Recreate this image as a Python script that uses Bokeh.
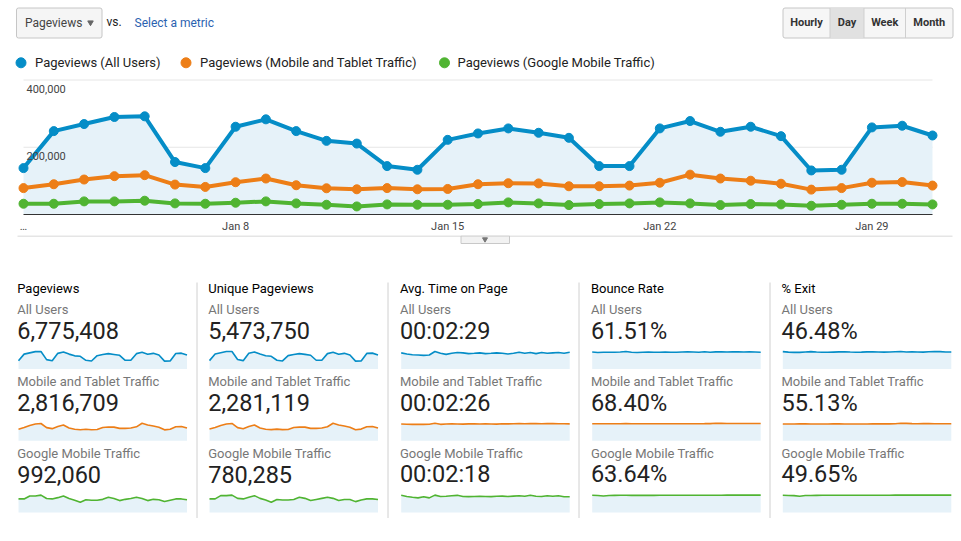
from bokeh.plotting import figure
from bokeh.models import Range1d, FixedTicker
from bokeh.layouts import column
from bokeh.core.properties import value
from bokeh.embed import file_html
from bokeh.resources import INLINE

FONT = value("Roboto")
W = 961
BASE_SHIFT = 0.37  # measured downward drift of the alphabetic baseline, in em

# ---------------- data ----------------
days = list(range(1, 32))
x_tick_days = [1, 8, 15, 22, 29]
x_tick_labels = ["…", "Jan 8", "Jan 15", "Jan 22", "Jan 29"]
y_ticks = [200000, 400000]
y_tick_labels = ["200,000", "400,000"]

series_names = ["Pageviews (All Users)", "Pageviews (Mobile and Tablet Traffic)",
                "Pageviews (Google Mobile Traffic)"]
series_colors = ["#058dc7", "#ed7e17", "#50b432"]

pv_all = [138000, 248000, 269000, 290000, 292000, 156000, 138000, 261000, 283000, 248000,
          219000, 211000, 144000, 133000, 222000, 241000, 256000, 243000, 228000, 144000,
          144000, 256000, 278000, 246000, 261000, 233000, 131000, 133000, 259000, 264000, 235000]
pv_mobile = [78500, 90000, 104000, 114000, 117000, 89000, 82000, 96000, 107000, 87000,
             78000, 75000, 78500, 75000, 76000, 90000, 93000, 92500, 84000, 84000,
             86000, 94500, 118500, 107000, 100500, 91500, 74000, 78500, 94500, 96500, 86000]
pv_google = [32000, 32000, 39000, 39000, 41000, 33000, 32000, 35000, 39000, 33000,
             29000, 24000, 30000, 29000, 29000, 31000, 36000, 33000, 28000, 31000,
             33000, 36000, 33000, 28000, 31000, 30000, 26000, 29000, 32000, 32000, 30000]

upv_all = [112000, 201000, 218000, 235000, 236000, 127000, 112000, 211000, 229000, 201000,
           178000, 171000, 117000, 108000, 180000, 195000, 207000, 197000, 185000, 117000,
           117000, 207000, 225000, 199000, 211000, 189000, 106000, 108000, 210000, 214000, 190000]
upv_mobile = [64000, 73000, 84000, 92000, 95000, 72000, 66000, 78000, 87000, 70000,
              63000, 61000, 64000, 61000, 62000, 73000, 75000, 75000, 68000, 68000,
              70000, 77000, 96000, 87000, 81000, 74000, 60000, 64000, 77000, 78000, 70000]
upv_google = [25000, 25000, 31000, 31000, 32000, 26000, 25000, 28000, 31000, 26000,
              23000, 19000, 24000, 23000, 23000, 24000, 28000, 26000, 22000, 24000,
              26000, 28000, 26000, 22000, 24000, 24000, 20000, 23000, 25000, 25000, 24000]

time_all = [149, 139, 132, 129, 126, 129, 162, 145, 135, 145, 152, 149, 142, 145, 149, 142,
            145, 149, 145, 139, 145, 155, 145, 152, 142, 152, 145, 149, 152, 145, 155]
time_mobile = [146, 144, 143, 143, 143, 144, 152, 143, 146, 148, 146, 145, 147, 148, 146, 147,
               146, 145, 148, 147, 148, 149, 148, 150, 149, 148, 150, 149, 148, 148, 147]
time_google = [150, 140, 133, 128, 138, 128, 152, 140, 142, 146, 150, 140, 139, 140, 142, 140,
               139, 142, 143, 140, 143, 146, 142, 150, 142, 140, 147, 142, 146, 138, 137]

bounce_all = [61.5, 60.0, 60.5, 61.0, 60.5, 61.5, 63.5, 60.5, 60.0, 61.0, 61.5, 61.0, 60.5,
              61.5, 61.0, 60.5, 61.5, 62.0, 61.5, 61.0, 62.5, 61.0, 62.0, 62.5, 61.5, 62.0,
              62.5, 61.5, 62.0, 61.5, 61.0]
bounce_mobile = [68.0, 67.8, 67.9, 68.0, 67.8, 68.1, 68.3, 67.9, 67.8, 67.9, 68.0, 68.0, 67.7,
                 67.9, 67.8, 67.9, 68.0, 68.1, 68.2, 68.2, 68.3, 68.6, 69.8, 69.5, 69.2, 69.0,
                 68.9, 69.0, 69.0, 68.9, 68.9]
bounce_google = [63.5, 62.8, 61.0, 62.5, 63.2, 63.3, 63.4, 63.2, 63.2, 63.2, 63.3, 63.2, 63.3,
                 63.4, 63.4, 63.4, 63.5, 63.5, 63.6, 63.7, 63.7, 63.7, 63.8, 63.8, 63.9, 63.9,
                 64.0, 64.0, 64.1, 64.1, 64.1]

exit_all = [47.5, 46.3, 45.6, 45.6, 46.6, 47.6, 46.4, 45.7, 45.8, 46.3, 46.8, 47.1, 46.4, 45.9,
            46.2, 46.8, 47.3, 46.7, 46.3, 46.4, 47.1, 47.7, 46.6, 47.4, 46.6, 46.2, 47.2, 47.9,
            47.5, 46.6, 46.6]
exit_mobile = [54.6, 54.4, 54.5, 54.8, 54.9, 54.6, 54.5, 54.6, 54.7, 54.8, 54.8, 54.6, 54.5,
               54.4, 54.5, 54.7, 54.8, 54.9, 54.9, 55.0, 55.4, 56.8, 56.4, 55.6, 55.5, 55.6,
               55.6, 55.5, 55.4, 55.5, 55.3]
exit_google = [49.5, 49.0, 48.6, 46.8, 48.7, 49.0, 49.3, 49.4, 49.4, 49.6, 49.4, 49.4, 49.6,
               49.4, 49.5, 49.5, 49.6, 49.6, 49.7, 49.7, 49.8, 49.8, 49.8, 49.9, 49.9, 50.0,
               50.0, 50.0, 50.0, 50.0, 50.0]

metric_titles = ["Pageviews", "Unique Pageviews", "Avg. Time on Page", "Bounce Rate", "% Exit"]
segment_names = ["All Users", "Mobile and Tablet Traffic", "Google Mobile Traffic"]
metric_totals = [["6,775,408", "2,816,709", "992,060"],
                 ["5,473,750", "2,281,119", "780,285"],
                 ["00:02:29", "00:02:26", "00:02:18"],
                 ["61.51%", "68.40%", "63.64%"],
                 ["46.48%", "55.13%", "49.65%"]]
spark_series = [[pv_all, pv_mobile, pv_google],
                [upv_all, upv_mobile, upv_google],
                [time_all, time_mobile, time_google],
                [bounce_all, bounce_mobile, bounce_google],
                [exit_all, exit_mobile, exit_google]]

button_labels = ["Hourly", "Day", "Week", "Month"]
FILL_BLUE = "#e6f2f9"


def blank(height, y_top, y_bottom):
    p = figure(width=W, height=height, x_range=Range1d(0, W),
               y_range=Range1d(y_bottom, y_top), output_backend="svg",
               toolbar_location=None, x_axis_location=None, y_axis_location=None,
               min_border=0, outline_line_color=None,
               background_fill_color="white", border_fill_color="white")
    p.xgrid.grid_line_color = None
    p.ygrid.grid_line_color = None
    return p


def txt(p, x, y, s, size, color, align="left", style="normal"):
    # y is the wanted baseline (page px, y grows downward)
    y_adj = y - BASE_SHIFT * size
    p.text(x=[x], y=[y_adj], text=[s], text_font=FONT, text_font_size=f"{size}px",
           text_color=color, text_align=align, text_baseline="alphabetic",
           text_font_style=style)


# ---------------- header ----------------
hd = blank(76, 0, 76)
hd.quad(left=[16], right=[101.5], top=[7.5], bottom=[37.5], fill_color="#f5f5f5",
        line_color="#c6c6c6", border_radius=2)
txt(hd, 24.5, 26.5, "Pageviews", 12, "#444444")
hd.scatter(x=[90], y=[22], marker="inverted_triangle", size=5.5, color="#666666")
txt(hd, 106, 26, "vs.", 12, "#222222")
txt(hd, 134, 26.5, "Select a metric", 12, "#2a62b0")

edges = [782.5, 829.5, 863.5, 905, 952.5]
hd.quad(left=[edges[0]], right=[edges[-1]], top=[7.5], bottom=[37.5],
        fill_color="#f6f6f6", line_color="#c6c6c6", border_radius=2)
hd.quad(left=[edges[1]], right=[edges[2]], top=[8], bottom=[37],
        fill_color="#e1e1e1", line_color=None)
hd.segment(x0=edges[1:4], x1=edges[1:4], y0=[7.5] * 3, y1=[37.5] * 3, line_color="#cfcfcf")
for i, lab in enumerate(button_labels):
    txt(hd, (edges[i] + edges[i + 1]) / 2, 26.3, lab, 11, "#333333",
        align="center", style="bold")

leg_dot_x = [20.5, 185.5, 444]
leg_txt_x = [34.5, 199.5, 457]
for i, name in enumerate(series_names):
    hd.scatter(x=[leg_dot_x[i]], y=[62.3], size=10, color=series_colors[i])
    txt(hd, leg_txt_x[i], 66.7, name, 13, "#222222")

# ---------------- main chart ----------------
PX_DAY = (932 - 23) / (days[-1] - days[0])
x_start = days[0] - 23 / PX_DAY
x_end = x_start + W / PX_DAY
UPP = y_ticks[-1] / (214 - 79.5)
y_end = (214 - 76) * UPP

mp = figure(width=W, height=159, x_range=Range1d(x_start, x_end),
            y_range=Range1d(0, y_end), output_backend="svg", toolbar_location=None,
            y_axis_location=None, min_border=0, min_border_bottom=21,
            outline_line_color=None, background_fill_color="white",
            border_fill_color="white")
mp.xgrid.grid_line_color = None
mp.ygrid.grid_line_color = None
ax = mp.xaxis[0]
ax.ticker = FixedTicker(ticks=x_tick_days)
ax.major_label_overrides = dict(zip(x_tick_days, x_tick_labels))
ax.bounds = (days[0], days[-1])
ax.axis_line_color = "#333333"
ax.axis_line_width = 1
ax.major_tick_line_color = None
ax.minor_tick_line_color = None
ax.major_tick_out = 0
ax.major_label_standoff = 5
ax.major_label_text_font = "Roboto"
ax.major_label_text_font_size = "11px"
ax.major_label_text_color = "#444444"

mp.segment(x0=[days[0]] * len(y_ticks), x1=[days[-1]] * len(y_ticks),
           y0=y_ticks, y1=y_ticks, line_color="#e6e6e6", line_width=1)
mp.varea(x=days, y1=[0] * len(days), y2=pv_all, fill_color=FILL_BLUE)
for vals, col in zip([pv_google, pv_mobile, pv_all], series_colors[::-1]):
    mp.line(x=days, y=vals, line_color=col, line_width=4, line_join="round")
    mp.scatter(x=days, y=vals, size=9, color=col)
label_drop = 12.8 - BASE_SHIFT * 11
mp.text(x=[days[0]] * len(y_ticks), y=[t - label_drop * UPP for t in y_ticks],
        text=y_tick_labels, x_offset=3, text_font=FONT, text_font_size="11px",
        text_color="#444444", text_baseline="alphabetic", text_align="left")

# ---------------- metric panels ----------------
bt = blank(306, 235, 541)
bt.segment(x0=[17], x1=[952], y0=[235.5], y1=[235.5], line_color="#cccccc")
bt.quad(left=[460.5], right=[509], top=[235.5], bottom=[243], fill_color="#f2f2f2",
        line_color="#c8c8c8")
bt.scatter(x=[484.5], y=[238.8], marker="inverted_triangle", size=5, color="#777777")

div_x = [196.5, 387.5, 578.5, 769.5]
bt.segment(x0=div_x, x1=div_x, y0=[282] * 4, y1=[517.5] * 4, line_color="#d0d0d0")

SX = [18, 209, 400.7, 591.7, 782.3]
SW = 168.5
ROW = 71.8
BOT_H = 306
for i, title in enumerate(metric_titles):
    tx = SX[i] - 1.3
    txt(bt, tx, 292.5, title, 13, "#000000")
    x0, x1 = SX[i], SX[i] + SW
    xs = days[0] - x0 * (days[-1] - days[0]) / (x1 - x0)
    xe = xs + W * (days[-1] - days[0]) / (x1 - x0)
    xname = f"sx{i}"
    bt.extra_x_ranges[xname] = Range1d(xs, xe)
    for r in range(3):
        txt(bt, tx, 314.2 + r * ROW, segment_names[r], 13, "#777777")
        txt(bt, tx, 339 + r * ROW, metric_totals[i][r], 23.5, "#222222")
        vals = spark_series[i][r]
        vmax = max(vals)
        ytop, ybot = 351 + r * ROW, 368.4 + r * ROW
        k = vmax / (ybot - ytop)
        ys = -(541 - ybot) * k
        ye = ys + BOT_H * k
        yname = f"sy{i}_{r}"
        bt.extra_y_ranges[yname] = Range1d(ys, ye)
        bt.varea(x=days, y1=[0] * len(days), y2=vals, fill_color=FILL_BLUE,
                 x_range_name=xname, y_range_name=yname)
        bt.line(x=days, y=vals, line_color=series_colors[r], line_width=1.6,
                x_range_name=xname, y_range_name=yname)

layout = column(hd, mp, bt, spacing=0)
open("out.html", "w").write(file_html(layout, INLINE))
